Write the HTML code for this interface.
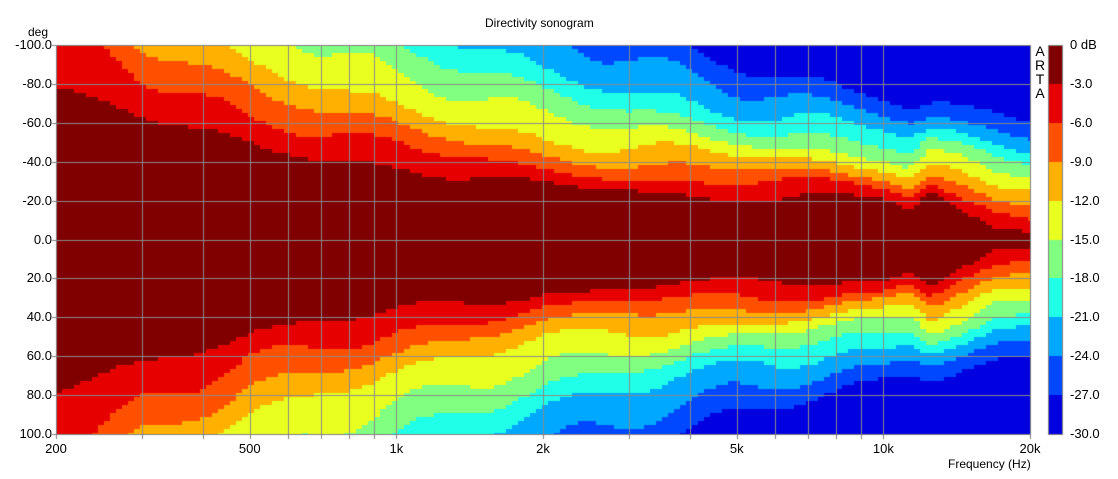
<!DOCTYPE html>
<html><head><meta charset="utf-8"><style>
body{margin:0;background:#fff;width:1118px;height:479px;overflow:hidden;position:relative;font-family:"Liberation Sans",Arial,sans-serif;color:#000}
.t{position:absolute;font-size:13px;white-space:nowrap}
.yl{position:absolute;right:1066px;font-size:13px;text-align:right}
.xl{position:absolute;top:441px;font-size:13px;transform:translateX(-50%)}
.cl{position:absolute;left:1070px;font-size:13px}
canvas{position:absolute;left:0;top:0}
</style></head><body>
<canvas id="c" width="1118" height="479"></canvas>
<div class="t" style="left:485px;top:16px;font-size:12px">Directivity sonogram</div>
<div class="t" style="left:28px;top:25px;font-size:12px">deg</div>
<div class="t" style="left:948px;top:457px;font-size:12px">Frequency (Hz)</div>
<div class="t" style="left:1034px;top:44px;font-size:14px;line-height:14px;width:12px;text-align:center">A<br>R<br>T<br>A</div>
<div id="lbl"></div>
<script>
var L=56,R=1030,T=45,B=434;
var cols=["#800000","#e60000","#ff5000","#ffb000","#e8ff20","#80ff80","#20ffe8","#00a8ff","#0048ff","#0000e0"];
function fx(f){return L+(R-L)*Math.log10(f/200)/2;}
function fy(d){return T+(B-T)*(d+100)/200;}
var A=[[200,[76,108,130,150,170,190,210,230,250]],
[300,[66,84,99,112,128,145,165,185,205]],
[400,[57,72,87,102,120,138,158,178,198]],
[500,[50,62,75,92,115,135,155,175,195]],
[700,[44,55,66,80,98,115,135,155,175]],
[1000,[37,47,58,70,84,98,115,135,155]],
[1500,[31,40,49,60,72,85,100,118,138]],
[2000,[27,34,43,52,63,75,88,105,125]],
[3000,[25,32,39,47,56,66,78,92,108]],
[5000,[22,30,36,43,50,58,66,76,88]],
[8000,[21,28,33,39,45,52,59,67,78]],
[10000,[21,27,32,38,44,50,57,65,75]],
[11300,[14,22,28,34,40,46,52,60,70]],
[12500,[25,30,35,40,45,50,56,63,72]],
[15000,[12,20,27,32,38,44,50,58,67]],
[17000,[4,15,22,28,33,40,47,56,66]],
[20000,[4,12,20,27,32,38,45,55,65]]];
function cross(f){
 for(var i=0;i<A.length-1;i++){if(f<=A[i+1][0]){var a=A[i],b=A[i+1];var t=Math.log(f/a[0])/Math.log(b[0]/a[0]);return a[1].map(function(v,k){return v+(b[1][k]-v)*t;});}}
 return A[A.length-1][1];
}
var cv=document.getElementById('c'),x=cv.getContext('2d');
x.fillStyle="#fff";x.fillRect(0,0,1118,479);
var cw=6,ch=4;
for(var px=L;px<R;px+=cw){
 var f=200*Math.pow(10,2*(px+cw/2-L)/(R-L));
 var c=cross(f);
 for(var py=T;py<B;py+=ch){
  var d=-100+200*(py+ch/2-T)/(B-T);
  var th=Math.abs(d);
  th=th*(1+0.05*Math.sin(Math.log(f)*9+(d>0?1:0)))+2*Math.sin(th*0.15+Math.log(f)*5);
  var lv=0;for(var k=0;k<9;k++){if(th>c[k])lv=k+1;}
  x.fillStyle=cols[lv];x.fillRect(px,py,Math.min(cw,R-px),Math.min(ch,B-py));
 }
}
x.strokeStyle="#8a8a8a";x.lineWidth=1;
var gf=[300,400,500,600,700,800,900,1000,2000,3000,4000,5000,6000,7000,8000,9000,10000];
x.beginPath();
gf.forEach(function(f){var X=Math.round(fx(f))+0.5;x.moveTo(X,T);x.lineTo(X,B);});
for(var d=-80;d<=80;d+=20){var Y=Math.round(fy(d))+0.5;x.moveTo(L,Y);x.lineTo(R,Y);}
x.stroke();
x.strokeStyle="#808080";x.strokeRect(L+0.5,T+0.5,R-L,B-T);
x.beginPath();
for(var d=-100;d<=100;d+=20){var Y=Math.round(fy(d))+0.5;x.moveTo(L-4,Y);x.lineTo(L,Y);}
[200,300,400,500,600,700,800,900,1000,2000,3000,4000,5000,6000,7000,8000,9000,10000,20000].forEach(function(f){var X=Math.round(fx(f))+0.5;x.moveTo(X,B);x.lineTo(X,B+5);});
x.stroke();
var cx=1048,cwd=14;
for(var i=0;i<10;i++){x.fillStyle=cols[i];var y0=T+(B-T)*i/10;x.fillRect(cx,Math.round(y0),cwd,Math.round(T+(B-T)*(i+1)/10)-Math.round(y0));}
x.strokeStyle="#808080";x.strokeRect(cx+0.5,T+0.5,cwd,B-T);
var h="";
for(var d=-100;d<=100;d+=20){h+='<div class="yl" style="top:'+(fy(d)-8)+'px">'+d.toFixed(1)+'</div>';}
[[200,"200"],[500,"500"],[1000,"1k"],[2000,"2k"],[5000,"5k"],[10000,"10k"],[20000,"20k"]].forEach(function(p){h+='<div class="xl" style="left:'+fx(p[0])+'px">'+p[1]+'</div>';});
for(var i=0;i<=10;i++){var v=i==0?"0 dB":(-3*i).toFixed(1);h+='<div class="cl" style="top:'+(T+(B-T)*i/10-8)+'px">'+v+'</div>';}
document.getElementById('lbl').innerHTML=h;
</script>
</body></html>
